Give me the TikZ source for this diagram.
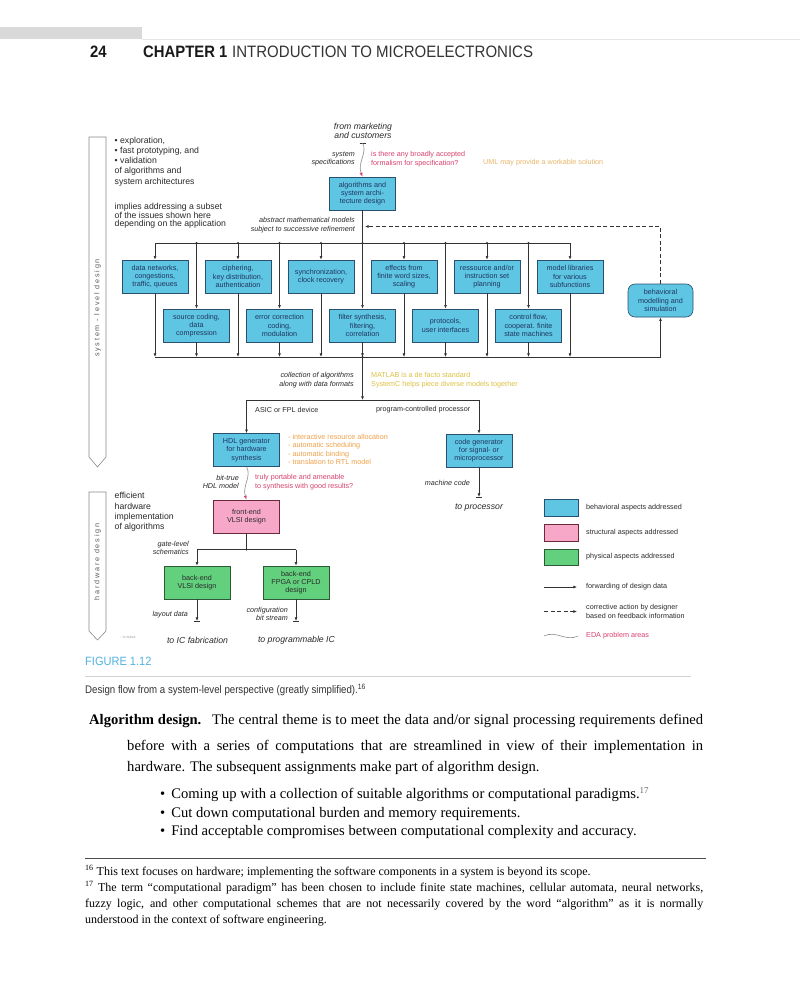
\documentclass[tikz,border=0pt]{standalone}
\usepackage{fontspec}
\usepackage{graphicx}
\setmainfont{Liberation Serif}
\newfontfamily\dsans{Liberation Sans}
\usetikzlibrary{arrows.meta,calc}

\definecolor{cyanf}{HTML}{5EC5E3}
\definecolor{cyanb}{HTML}{2B4F6E}
\definecolor{boxtxt}{HTML}{1F3560}
\definecolor{pinkf}{HTML}{F7A8C8}
\definecolor{pinkb}{HTML}{6B2A3A}
\definecolor{greenf}{HTML}{62D07C}
\definecolor{greenb}{HTML}{2D5A36}
\definecolor{pinkt}{HTML}{D8406E}
\definecolor{orangt}{HTML}{EFA048}
\definecolor{umlc}{HTML}{E9B66A}
\definecolor{yelt}{HTML}{DCC040}
\definecolor{linec}{HTML}{333333}
\definecolor{txtc}{HTML}{2A2A2A}
\definecolor{figc}{HTML}{52B2DE}
\definecolor{arrc}{HTML}{8A8A8A}

\newcommand\bxfont{\dsans\fontsize{7.2}{8.3}\selectfont}
\newcommand\itlab{\dsans\itshape\fontsize{7.2}{8.3}\selectfont}
\newcommand\lgtxt{\dsans\fontsize{8.7}{10.2}\selectfont}
\newcommand\itlg{\dsans\itshape\fontsize{8.7}{9}\selectfont}
\newcommand\hdfont{\dsans\fontsize{16.5}{18}\selectfont}
\newcommand\capfont{\dsans\fontsize{11}{13}\selectfont}
\newcommand\figfont{\dsans\fontsize{12}{13}\selectfont}
\newcommand\bodyf{\fontsize{14.6}{17}\selectfont}
\newcommand\fnf{\fontsize{12}{14}\selectfont}

\tikzset{
  ln/.style={draw=linec, line width=0.6pt},
  arr/.style={ln, -{Latex[length=3.6pt,width=2.8pt]}},
  dsh/.style={ln, dash pattern=on 4pt off 2.5pt, -{Latex[length=3.6pt,width=2.8pt]}},
  wav/.style={draw=arrc, line width=0.6pt, -{Latex[length=4pt,width=3pt,color=pinkt]}},
  bx/.style={draw=cyanb, line width=0.6pt, fill=cyanf, minimum width=66pt, minimum height=33pt, inner sep=1pt, align=center, font=\bxfont, text=boxtxt},
  pbx/.style={bx, draw=pinkb, fill=pinkf, text=txtc},
  gbx/.style={bx, draw=greenb, fill=greenf, text=txtc},
  lab/.style={inner sep=0pt, font=\itlab, text=txtc},
  plain/.style={inner sep=0pt, font=\bxfont, text=txtc},
  big/.style={inner sep=0pt, font=\lgtxt, text=txtc},
  bigit/.style={inner sep=0pt, font=\itlg, text=txtc},
  dot/.style={fill=linec},
  sidearrow/.style={draw=arrc, line width=0.6pt},
  body/.style={inner sep=0pt, anchor=base west, font=\bodyf, text=black},
  fnote/.style={inner sep=0pt, anchor=base west, font=\fnf, text=black}
}

\begin{document}
\begin{tikzpicture}[x=1pt,y=-1pt]
\useasboundingbox[fill=white] (0,0) rectangle (800,987);

% ---------- page header ----------
\fill[black!15] (0,27) rectangle (142,39);
\draw[black!10, line width=0.5pt] (142,39) -- (800,39);
\node[inner sep=0, anchor=base west, text=black!90] (pg) at (90,58) {\hdfont\scalebox{0.9}[1]{\bfseries 24}};
\node[inner sep=0, anchor=base west, text=black!90] (ch) at (143,58) {\hdfont\scalebox{0.9}[1]{\bfseries CHAPTER 1}};
\node[inner sep=0, anchor=base west, text=black!80] (ti) at (232,58) {\hdfont\scalebox{0.91}[1]{INTRODUCTION TO MICROELECTRONICS}};

% ---------- side arrows ----------
\draw[sidearrow] (89,137) -- (106,137) -- (106,457) -- (97.5,467) -- (89,457) -- cycle;
\draw[sidearrow] (89,492) -- (106,492) -- (106,631) -- (97.5,640) -- (89,631) -- cycle;
\node[rotate=90, inner sep=0, text=black!65] (sl) at (97.5,308) {\bxfont\addfontfeatures{LetterSpace=25}system - level design};
\node[rotate=90, inner sep=0, text=black!65] (hw) at (97.5,562) {\bxfont\addfontfeatures{LetterSpace=25}hardware design};

% ---------- left texts ----------
\node[big, anchor=west, align=left] (expl) at (114.5,161.5) {• exploration,\\• fast prototyping, and\\• validation\\of algorithms and\\system architectures};
\node[big, anchor=west, align=left, font=\dsans\fontsize{8.7}{7.8}\selectfont] (impl) at (114.5,215.5) {implies addressing a subset\\of the issues shown here\\depending on the application};
\node[big, anchor=west, align=left] (effi) at (114.5,512) {efficient\\hardware\\implementation\\of algorithms};

% ---------- top ----------
\node[bigit, align=center] (mkt) at (363,130.5) {from marketing\\and customers};
\coordinate (mk) at (362.5,143);
\node[lab, anchor=east, align=right] (spec) at (355,159) {system\\specifications};
\node[plain, anchor=west, align=left, text=pinkt] (q1) at (371,159) {is there any broadly accepted\\formalism for specification?};
\node[plain, anchor=west, text=umlc] (uml) at (483,163) {UML may provide a workable solution};

\node[bx] (alg) at (362.5,193.5) {algorithms and\\system archi-\\tecture design};
\node[lab, anchor=east, align=right] (abst) at (355,225) {abstract mathematical models\\subject to successive refinement};

% ---------- boxes ----------
\node[bx] (u0) at (155,276.5) {data networks,\\congestions,\\traffic, queues};
\node[bx] (u1) at (238,276.5) {ciphering,\\key distribution,\\authentication};
\node[bx] (u2) at (321,276.5) {synchronization,\\clock recovery};
\node[bx] (u3) at (404,276.5) {effects from\\finite word sizes,\\scaling};
\node[bx] (u4) at (487,276.5) {ressource and/or\\instruction set\\planning};
\node[bx] (u5) at (570,276.5) {model libraries\\for various\\subfunctions};
\node[bx] (l0) at (196.5,325.5) {source coding,\\data\\compression};
\node[bx] (l1) at (279.5,325.5) {error correction\\coding,\\modulation};
\node[bx] (l2) at (362.5,325.5) {filter synthesis,\\filtering,\\correlation};
\node[bx] (l3) at (445.5,325.5) {protocols,\\user interfaces};
\node[bx] (l4) at (528.5,325.5) {control flow,\\cooperat. finite\\state machines};
\node[bx, rounded corners=7pt, minimum width=65pt] (beh) at (660.5,300.5) {behavioral\\modelling and\\simulation};

\coordinate (tbus) at (0,243);
\coordinate (lbus) at (0,357);
\coordinate (sbus) at (0,400);
\coordinate (fbk) at (0,226.5);

\draw[ln] (mk) ++(-3pt,0) -- ++(6pt,0);
\draw[wav] (mk) .. controls (368,152) and (357,163) .. (alg.north);
\draw[ln] (alg.south) -- (alg.south |- tbus);
\draw[ln] (u0.north |- tbus) -- (u5.north |- tbus);
\foreach \n in {u0,u1,u2,u3,u4,u5,l0,l1,l2,l3,l4} {
  \draw[arr] (\n.north |- tbus) -- (\n.north);
  \draw[arr] (\n.south) -- (\n.south |- lbus);
}
\foreach \n in {u1,u2,u3,u4,l0,l1,l2,l3,l4} {
  \fill[dot] (\n.north |- tbus) circle (1.2pt);
}
\draw[ln] (u0.south |- lbus) -- (beh.south |- lbus);
\draw[arr] (beh.south |- lbus) -- (beh.south);
\draw[dsh] (beh.north) |- ([xshift=2.5pt]alg.south |- fbk);
\fill[dot] (alg.south |- lbus) circle (1.2pt);

% ---------- middle ----------
\node[lab, anchor=east, align=right] (coll) at (354,380) {collection of algorithms\\along with data formats};
\node[plain, anchor=west, align=left, text=yelt] (matl) at (371,380) {MATLAB is a de facto standard\\SystemC helps piece diverse models together};
\draw[arr] (alg.south |- lbus) -- (alg.south |- sbus);

\node[bx] (hdl) at (246.5,450) {HDL generator\\for hardware\\synthesis};
\node[bx] (cg) at (479,450.5) {code generator\\for signal- or\\microprocessor};
\node[plain, anchor=west] (asic) at (255,410) {ASIC or FPL device};
\node[plain, anchor=west] (pcp) at (376,410) {program-controlled processor};
\draw[ln] (hdl.north |- sbus) -- (cg.north |- sbus);
\draw[arr] (hdl.north |- sbus) -- (hdl.north);
\draw[arr] (cg.north |- sbus) -- (cg.north);

\node[plain, anchor=west, align=left, text=orangt] (hlist) at (288,449.5) {- interactive resource allocation\\- automatic scheduling\\- automatic binding\\- translation to RTL model};

\node[lab, anchor=east, align=right] (btm) at (239,482) {bit-true\\HDL model};
\node[plain, anchor=west, align=left, text=pinkt] (truly) at (255,482) {truly portable and amenable\\to synthesis with good results?};
\node[lab, anchor=east] (mc) at (470,483) {machine code};
\coordinate (ocp) at (479,497);
\draw[arr] (cg.south) -- (ocp);
\draw[ln] (ocp) ++(-3pt,0) -- ++(6pt,0);
\node[bigit] (tproc) at (479,507.5) {to processor};

% ---------- hardware ----------
\node[pbx] (fe) at (246.5,516.5) {front-end\\VLSI design};
\draw[wav] (hdl.south) .. controls (252,476) and (242,486) .. (fe.north);
\coordinate (fsp) at (246.5,549.5);
\draw[ln] (fe.south) -- (fsp);
\fill[dot] (fsp) circle (1.2pt);
\node[gbx] (bv) at (197,582.5) {back-end\\VLSI design};
\node[gbx] (bf) at (296,582.5) {back-end\\FPGA or CPLD\\design};
\draw[ln] (bv.north |- fsp) -- (bf.north |- fsp);
\draw[arr] (bv.north |- fsp) -- (bv.north);
\draw[arr] (bf.north |- fsp) -- (bf.north);
\node[lab, anchor=east, align=right] (gate) at (189,548) {gate-level\\schematics};
\coordinate (oic) at (197,621);
\coordinate (opr) at (296,621);
\draw[arr] (bv.south) -- (oic);
\draw[ln] (oic) ++(-3pt,0) -- ++(6pt,0);
\draw[arr] (bf.south) -- (opr);
\draw[ln] (opr) ++(-3pt,0) -- ++(6pt,0);
\node[lab, anchor=east] (lay) at (188,615) {layout data};
\node[lab, anchor=east, align=right] (conf) at (288,614) {configuration\\bit stream};
\node[bigit] (tic) at (197.5,640) {to IC fabrication};
\node[bigit] (tpic) at (296.5,640) {to programmable IC};
\node[inner sep=0, text=black!45, font=\dsans\fontsize{3}{3}\selectfont] (cpy) at (128,637.5) {\textasciitilde\ \% SLE24};

% ---------- legend ----------
\node[bx, minimum width=34pt, minimum height=16.5pt] (sw1) at (561,508) {};
\node[pbx, minimum width=34pt, minimum height=16.5pt] (sw2) at (561,533) {};
\node[gbx, minimum width=34pt, minimum height=16.5pt] (sw3) at (561,557.5) {};
\node[plain, anchor=west] (lt1) at (586,507.5) {behavioral aspects addressed};
\node[plain, anchor=west] (lt2) at (586,532.5) {structural aspects addressed};
\node[plain, anchor=west] (lt3) at (586,557) {physical aspects addressed};
\coordinate (la1) at (544,587); \coordinate (lb1) at (577,587);
\draw[arr] (la1) -- (lb1);
\node[plain, anchor=west] (lt4) at (586,587) {forwarding of design data};
\coordinate (la2) at (544,611.5); \coordinate (lb2) at (577,611.5);
\draw[dsh] (la2) -- (lb2);
\node[plain, anchor=west, align=left] (lt5) at (586,611.5) {corrective action by designer\\based on feedback information};
\coordinate (la3) at (544,636); \coordinate (lb3) at (578,636);
\draw[sidearrow] (la3) .. controls (556,630) and (566,642) .. (lb3);
\node[plain, anchor=west, text=pinkt] (lt6) at (586,636) {EDA problem areas};

% ---------- caption ----------
\node[inner sep=0, anchor=base west, text=figc] (fig) at (85,665.5) {\figfont\scalebox{0.92}[1]{FIGURE 1.12}};
\draw[black!18, line width=0.8pt] (85,676) -- (691,676);
\node[inner sep=0, anchor=base west, text=black!80] (capt) at (85,693.5) {\capfont\scalebox{0.88}[1]{Design flow from a system-level perspective (greatly simplified).\textsuperscript{16}}};

% ---------- body ----------
\node[body] (p1) at (89,724.5) {\makebox[614pt][s]{\textbf{Algorithm design.}\hspace{5pt} The central theme is to meet the data and/or signal processing requirements defined}};
\node[body] (p2) at (127,750.5) {\makebox[576pt][s]{before with a series of computations that are streamlined in view of their implementation in}};
\node[body] (p3) at (127,771.5) {hardware. The subsequent assignments make part of algorithm design.};
\node[body] (b1) at (160,798.5) {•\hspace{6pt}Coming up with a collection of suitable algorithms or computational paradigms.\textsuperscript{\fontsize{9}{9}\selectfont\color{black!60}17}};
\node[body] (b2) at (160,817.5) {•\hspace{6pt}Cut down computational burden and memory requirements.};
\node[body] (b3) at (160,835.5) {•\hspace{6pt}Find acceptable compromises between computational complexity and accuracy.};

% ---------- footnotes ----------
\draw[black!70, line width=0.7pt] (85,858) -- (706,858);
\node[fnote] (f1) at (85,875) {\textsuperscript{16} This text focuses on hardware; implementing the software components in a system is beyond its scope.};
\node[fnote] (f2) at (85,891) {\makebox[618pt][s]{\textsuperscript{17} The term “computational paradigm” has been chosen to include finite state machines, cellular automata, neural networks,}};
\node[fnote] (f3) at (85,907) {\makebox[618pt][s]{fuzzy logic, and other computational schemes that are not necessarily covered by the word “algorithm” as it is normally}};
\node[fnote] (f4) at (85,923) {understood in the context of software engineering.};
\end{tikzpicture}
\end{document}
